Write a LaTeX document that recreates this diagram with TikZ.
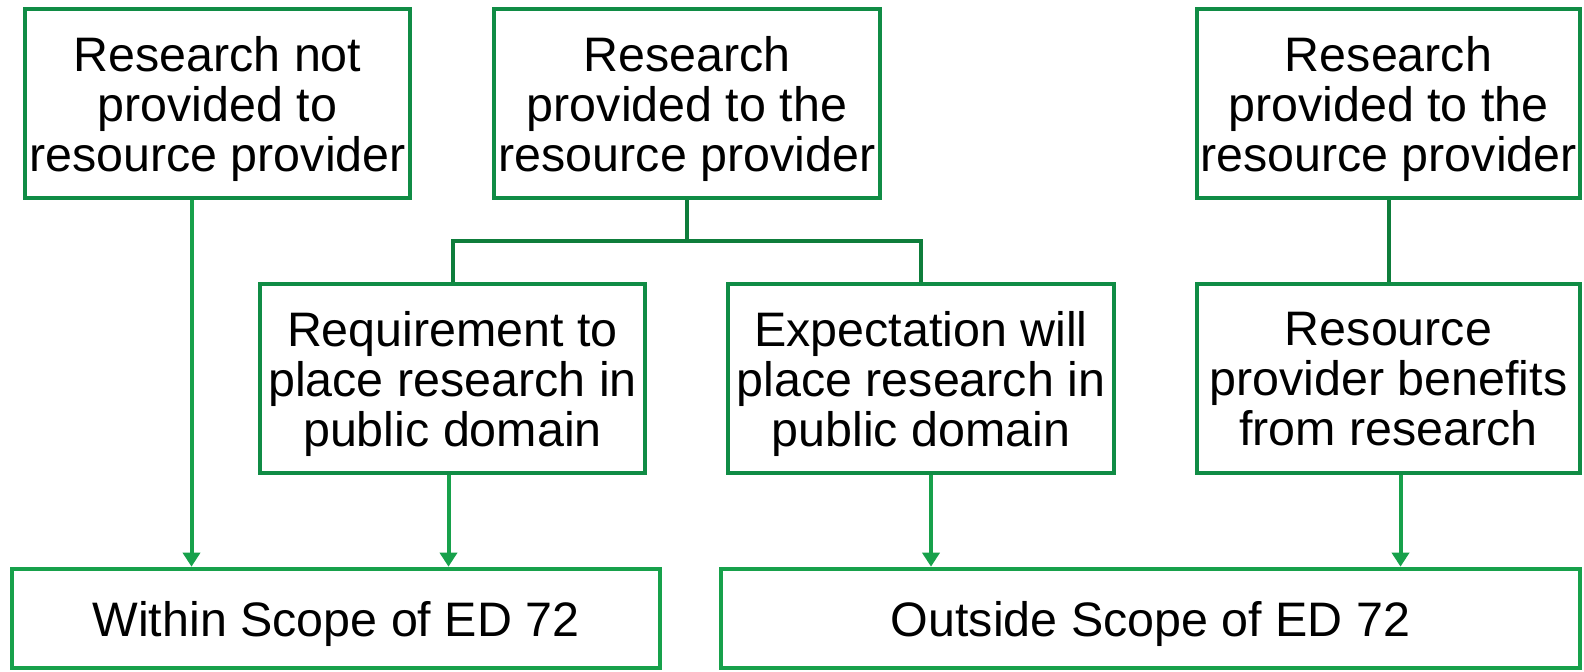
\documentclass[tikz,border=0pt]{standalone}
\usepackage{fontspec}
\setmainfont{Liberation Sans}
\usetikzlibrary{arrows.meta}
\definecolor{boxgreen}{HTML}{108C45}
\definecolor{arrowgreen}{HTML}{17A14B}
\definecolor{linkgreen}{HTML}{0E7D3B}

\begin{document}
\begin{tikzpicture}[x=0.5pt, y=-0.5pt,
  box/.style={draw=boxgreen, line width=2.3pt, fill=white, align=center,
    inner sep=0pt, text depth=0pt, minimum height=94.5pt, font=\fontsize{24.2}{25}\selectfont},
  scopebox/.style={box, draw=arrowgreen, minimum height=49.5pt},
  link/.style={draw=linkgreen, line width=2pt},
  arrow/.style={draw=arrowgreen, line width=2pt, -{Triangle[width=8.5pt,length=7pt]}}]
\useasboundingbox (0,0) rectangle (1584,672);
% top row
\node[box, minimum width=192.5pt] (notgiven) at (217.5,103.5) {Research not\\provided to\\resource provider};
\node[box, minimum width=193pt] (given) at (687,103.5) {Research\\provided to the\\resource provider};
\node[box, minimum width=191.5pt] (givenB) at (1388.5,103.5) {Research\\provided to the\\resource provider};
% middle row
\node[box, minimum width=192.5pt] (require) at (452.5,378.5) {Requirement to\\place research in\\public domain};
\node[box, minimum width=193pt] (expect) at (921,378.5) {Expectation will\\place research in\\public domain};
\node[box, minimum width=191.5pt] (benefit) at (1388.5,378.5) {Resource\\provider benefits\\from research};
% bottom row
\node[scopebox, minimum width=324pt] (within) at (336,618.5) {Within Scope of ED 72};
\node[scopebox, minimum width=429.5pt] (outside) at (1150.5,618.5) {Outside Scope of ED 72};
% tree under the middle box
\coordinate (split) at (687,241);
\draw[link] (given.south) -- (split);
\draw[link] (require.north) |- (split) -| (expect.north);
\draw[link] (givenB.south) -- (benefit.north);
% arrows
\draw[arrow] ([xshift=-13pt]notgiven.south) -- ([xshift=-13pt]notgiven.south |- within.north);
\draw[arrow] ([xshift=-2pt]require.south) -- ([xshift=-2pt]require.south |- within.north);
\draw[arrow] ([xshift=5pt]expect.south) -- ([xshift=5pt]expect.south |- outside.north);
\draw[arrow] ([xshift=6pt]benefit.south) -- ([xshift=6pt]benefit.south |- outside.north);
\end{tikzpicture}
\end{document}
